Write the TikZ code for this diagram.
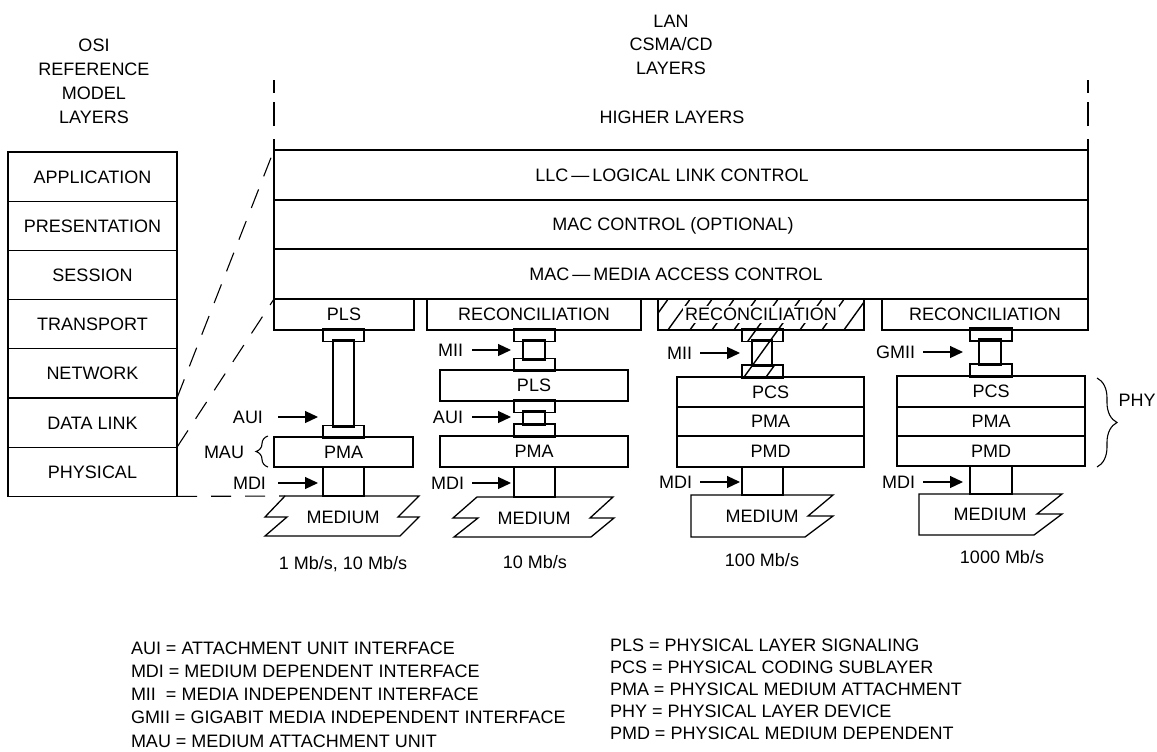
\documentclass[tikz,border=0pt]{standalone}
\usepackage{fontspec}
\setmainfont{Liberation Sans}
\usetikzlibrary{arrows.meta,decorations.pathreplacing}
\tikzset{
  every node/.style={font=\fontsize{18}{21.6}\selectfont, inner sep=0pt, outer sep=0pt},
  box/.style={draw, line width=1.3pt, text height=12.9pt, text depth=0pt},
  lbl/.style={text height=12.9pt, text depth=0pt},
  arr/.style={line width=1.2pt, -{Triangle[length=13pt,width=12pt]}},
  dsh/.style={line width=1.1pt, dash pattern=on 20pt off 14pt},
  vdsh/.style={line width=1.1pt, dash pattern=on 11pt off 13pt on 24pt off 9pt on 13pt off 60pt},
  hatchln/.style={line width=1.4pt},
  mline/.style={line width=1.3pt, line join=miter},
  brc/.style={decorate, line width=1.1pt, decoration={brace, amplitude=#1}},
}
\newcommand{\bx}[7][]{\node[box,#1,minimum width={(#5)-(#3)},minimum height={(#6)-(#4)}] (#2) at ({((#3)+(#5))/2},{((#4)+(#6))/2}) {#7};}
\newcommand{\hatchbox}[1]{\begin{scope}\clip (#1.north west) rectangle (#1.south east);
  \foreach \c in {551.5,573.5,...,905.5} {\draw[hatchln] (\c,400) -- ++(72,-100);}
  \end{scope}}
\begin{document}
\begin{tikzpicture}[x=1pt,y=-1pt]
\useasboundingbox (0,0) rectangle (1157,752);

% ---------- headers ----------
\node[align=center, font=\fontsize{18}{24}\selectfont] (osihead) at (94,81) {OSI\\REFERENCE\\MODEL\\LAYERS};
\node[align=center, font=\fontsize{18}{23.5}\selectfont] (lanhead) at (671,44.5) {LAN\\CSMA/CD\\LAYERS};
\node[lbl] (higher) at (672,117) {HIGHER LAYERS};

% ---------- OSI stack ----------
\bx{osiA}{8}{152}{177}{201.2}{APPLICATION}
\bx{osiP}{8}{201.2}{177}{250.4}{PRESENTATION}
\bx{osiS}{8}{250.4}{177}{299.6}{SESSION}
\bx{osiT}{8}{299.6}{177}{348.8}{TRANSPORT}
\bx{osiN}{8}{348.8}{177}{398}{NETWORK}
\bx{osiD}{8}{398}{177}{447.2}{DATA LINK}
\bx{osiPh}{8}{447.2}{177}{496.4}{PHYSICAL}

% ---------- LAN stack ----------
\bx{llc}{274}{150}{1088}{200}{}
\bx{macc}{274}{200}{1088}{249}{}
\bx{mac}{274}{249}{1088}{299}{}
\node[lbl] (llct) at (672,175) {LLC\,\textemdash\,LOGICAL LINK CONTROL};
\node[lbl] (macct) at (673,224.5) {MAC CONTROL (OPTIONAL)};
\node[lbl] (mact) at (676,274) {MAC\,\textemdash\,MEDIA ACCESS CONTROL};

% vertical dashed guides
\draw[vdsh] (llc.north west) -- ++(0,-70);
\draw[vdsh] (llc.north east) -- ++(0,-70);

% ---------- sublayer row ----------
\bx{plsA}{274}{299}{414}{330}{PLS}
\bx{recB}{427}{299}{641}{330}{RECONCILIATION}
\bx{recC}{658}{299}{864}{330}{}
\bx{recD}{882}{299}{1088}{330}{RECONCILIATION}

% ---------- column 1 ----------
\bx{tabA1}{323}{330}{364}{340}{}
\bx{stemA}{333}{340}{354}{427}{}
\bx{tabA2}{323}{427}{364}{437}{}
\bx{pmaA}{274}{437}{413}{467}{PMA}
\bx{mdiA}{323}{467}{364}{496}{}

% ---------- column 2 ----------
\bx{tabB1}{514}{330}{555}{340}{}
\bx{stemB1}{523}{340}{545}{360}{}
\bx{tabB2}{514}{360}{555}{370}{}
\bx{plsB}{440}{370}{628}{401}{PLS}
\bx{tabB3}{514}{401}{555}{411}{}
\bx{stemB2}{523}{411}{545}{425}{}
\bx{tabB4}{514}{425}{555}{436}{}
\bx{pmaB}{440}{436}{628}{467}{PMA}
\bx{mdiB}{514}{467}{555}{497}{}

% ---------- column 3 ----------
\bx{tabC1}{742}{330}{783}{340}{}
\bx{stemC}{752}{340}{772}{366}{}
\bx{tabC2}{742}{366}{783}{377}{}
\bx{pcsC}{677}{377}{864}{407}{PCS}
\bx{pmaC}{677}{407}{864}{436}{PMA}
\bx{pmdC}{677}{436}{864}{467}{PMD}
\bx{mdiC}{742}{467}{783}{495}{}
\hatchbox{recC}
\hatchbox{tabC1}
\hatchbox{stemC}
\hatchbox{tabC2}
\node[lbl, fill=white, inner sep=2.5pt] (recCt) at (761,314.5) {RECONCILIATION};

% ---------- column 4 ----------
\bx{tabD1}{970}{330}{1012}{339}{}
\bx{stemD}{979}{339}{1001}{365}{}
\bx{tabD2}{970}{365}{1012}{376}{}
\bx{pcsD}{897}{376}{1085}{407}{PCS}
\bx{pmaD}{897}{407}{1085}{436}{PMA}
\bx{pmdD}{897}{436}{1085}{466}{PMD}
\bx{mdiD}{970}{466}{1012}{494}{}

% ---------- media ----------
\coordinate (m1) at (285,496);
\draw[mline] (m1) -- (419,496) -- (398,517) -- (419,517) -- (400,536) -- (265,536) -- (287,517) -- (265,517) -- cycle;
\node[lbl] (med1) at (343,517) {MEDIUM};
\draw[mline] (477,497) -- (613,497) -- (590,518) -- (614,518) -- (591,537) -- (454,537) -- (478,518) -- (453,518) -- cycle;
\node[lbl] (med2) at (534,518.5) {MEDIUM};
\draw[mline] (691,495) -- (833,495) -- (808,516) -- (833,516) -- (805,537) -- (691,537) -- cycle;
\node[lbl] (med3) at (762,516) {MEDIUM};
\draw[mline] (919,494) -- (1062,494) -- (1037,514) -- (1062,514) -- (1034,535) -- (919,535) -- cycle;
\node[lbl] (med4) at (990,514) {MEDIUM};

% ---------- dashed OSI mapping ----------
\draw[dsh] (osiD.north east) -- (llc.north west);
\draw[dsh] (osiPh.north east) -- (plsA.north west);
\draw[dsh] (osiPh.south east) -- (m1);

% ---------- interface labels and arrows ----------
\coordinate (tA1) at (318,417);
\coordinate (tA2) at (318,483);
\node[lbl, anchor=east] (auiA) at (263,417) {AUI};
\node[lbl, anchor=east] (mdiAl) at (266,483) {MDI};
\node[lbl] (mau) at (224,452) {MAU};
\draw[arr, shorten <=15pt] (auiA.east) -- (tA1);
\draw[arr, shorten <=12pt] (mdiAl.east) -- (tA2);
\coordinate (mauB) at (268,467);
\coordinate (mauT) at (268,436);
\draw[brc=12pt] (mauB) -- (mauT);

\coordinate (tB1) at (511,350);
\coordinate (tB2) at (511,417);
\coordinate (tB3) at (511,483);
\node[lbl, anchor=east] (miiB) at (463,350) {MII};
\node[lbl, anchor=east] (auiB) at (463,417) {AUI};
\node[lbl, anchor=east] (mdiBl) at (464,483) {MDI};
\draw[arr, shorten <=9pt] (miiB.east) -- (tB1);
\draw[arr, shorten <=9pt] (auiB.east) -- (tB2);
\draw[arr, shorten <=8pt] (mdiBl.east) -- (tB3);

\coordinate (tC1) at (740,353);
\coordinate (tC2) at (740,482);
\node[lbl, anchor=east] (miiC) at (692,353) {MII};
\node[lbl, anchor=east] (mdiCl) at (692,482) {MDI};
\draw[arr, shorten <=8pt] (miiC.east) -- (tC1);
\draw[arr, shorten <=8pt] (mdiCl.east) -- (tC2);

\coordinate (tD1) at (963,352);
\coordinate (tD2) at (963,482);
\node[lbl, anchor=east] (gmiiD) at (915,352) {GMII};
\node[lbl, anchor=east] (mdiDl) at (915,482) {MDI};
\draw[arr, shorten <=8pt] (gmiiD.east) -- (tD1);
\draw[arr, shorten <=8pt] (mdiDl.east) -- (tD2);

\coordinate (phyT) at (1097,378);
\coordinate (phyB) at (1097,467);
\draw[brc=20pt] (phyT) -- (phyB);
\node[lbl] (phy) at (1137,400) {PHY};

% ---------- speeds ----------
\node[lbl] (sp1) at (343,563) {1 Mb/s, 10 Mb/s};
\node[lbl] (sp2) at (535,562) {10 Mb/s};
\node[lbl] (sp3) at (762,560) {100 Mb/s};
\node[lbl] (sp4) at (1002,557) {1000 Mb/s};

% ---------- legend ----------
\node[anchor=north west, align=left, font=\fontsize{18}{23.3}\selectfont] (legL) at (131,641.5)
  {AUI = ATTACHMENT UNIT INTERFACE\\
   MDI = MEDIUM DEPENDENT INTERFACE\\
   MII\ \ = MEDIA INDEPENDENT INTERFACE\\
   GMII = GIGABIT MEDIA INDEPENDENT INTERFACE\\
   MAU = MEDIUM ATTACHMENT UNIT};
\node[anchor=north west, align=left, font=\fontsize{18}{22.2}\selectfont] (legR) at (610,638.5)
  {PLS = PHYSICAL LAYER SIGNALING\\
   PCS = PHYSICAL CODING SUBLAYER\\
   PMA = PHYSICAL MEDIUM ATTACHMENT\\
   PHY = PHYSICAL LAYER DEVICE\\
   PMD = PHYSICAL MEDIUM DEPENDENT};
\end{tikzpicture}
\end{document}
